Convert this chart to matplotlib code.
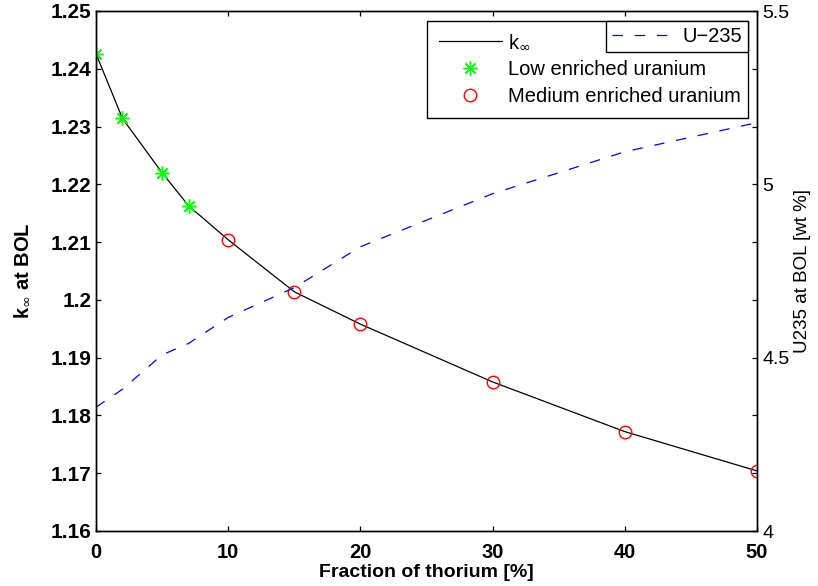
import matplotlib.pyplot as plt
import numpy as np

# - Data
thorium = [0, 2, 5, 7, 10, 15, 20, 30, 40, 50]
k_inf = [1.2426, 1.2314, 1.2220, 1.2163, 1.2104, 1.2014, 1.1958, 1.1858, 1.1772, 1.1704]
u235 = [4.357, 4.409, 4.508, 4.541, 4.616, 4.702, 4.820, 4.973, 5.094, 5.178]

leu_x = [0, 2, 5, 7]
leu_k = [1.2426, 1.2314, 1.2220, 1.2163]
meu_x = [10, 15, 20, 30, 40, 50]
meu_k = [1.2104, 1.2014, 1.1958, 1.1858, 1.1772, 1.1704]

left_ticks = [1.16, 1.17, 1.18, 1.19, 1.20, 1.21, 1.22, 1.23, 1.24, 1.25]
right_labels = ['4', '', '', '4.5', '', '', '5', '', '', '5.5']
x_ticks = [0, 10, 20, 30, 40, 50]

# - Style
plt.rcParams['font.family'] = ['Liberation Sans', 'DejaVu Sans']
plt.rcParams['lines.scale_dashes'] = False

fig = plt.figure(figsize=(8.18, 5.86), dpi=100)
ax = fig.add_axes([96 / 818, 55 / 586, 661 / 818, 520 / 586])
ax2 = ax.twinx()

# - Plot
l_k, = ax.plot(thorium, k_inf, color='black', lw=0.9, label=r'k$_{\infty}$')
l_leu, = ax.plot(leu_x, leu_k, ls='none', marker=(8, 2, 0), ms=10, mew=1,
                 color=(0, 1, 0), label='Low enriched uranium')
l_meu, = ax.plot(meu_x, meu_k, ls='none', marker='o', ms=9, mew=1,
                 mfc='none', mec='red', label='Medium enriched uranium')
l_u, = ax2.plot(thorium, u235, color='blue', lw=0.9, ls=(0, (7.5, 8.5)), label='U\u2212235')

# - Axes
ax.set_xlim(0, 50)
ax.set_ylim(1.16, 1.25)
ax2.set_ylim(4, 5.5)
ax.set_xticks(x_ticks)
ax.set_xticklabels([str(t) for t in x_ticks], fontsize=14.5, fontweight='bold')
ax.set_yticks(left_ticks)
ax.set_yticklabels(['%g' % t for t in left_ticks], fontsize=15, fontweight='bold')
ax2.set_yticks(np.linspace(4, 5.5, 10))
ax2.set_yticklabels(right_labels, fontsize=14)

ax.tick_params(axis='x', direction='in', length=3.6, width=0.9, top=True, pad=9)
ax.tick_params(axis='y', direction='in', length=3.6, width=0.9, right=False, pad=3)
ax2.tick_params(axis='y', direction='in', length=3.6, width=0.9, pad=4)
for a in (ax, ax2):
    for s in a.spines.values():
        s.set_linewidth(1.0)

ax.set_xlabel('Fraction of thorium [%]', fontsize=14, fontweight='bold', labelpad=1)
ax.set_ylabel(r'k$_{\infty}$ at BOL', fontsize=14.5, fontweight='bold', labelpad=14)
ax2.set_ylabel('U235 at BOL [wt %]', fontsize=13.5, labelpad=3)

# - Legends (two boxes, like the original)
leg1 = ax.legend(handles=[l_k, l_leu, l_meu], loc='upper left',
                 bbox_to_anchor=(427 / 818, 1 - 21 / 586 - 0.2, 321 / 818, 0.2),
                 bbox_transform=fig.transFigure, mode='expand', borderaxespad=0,
                 fontsize=14.5, handlelength=3.1, handletextpad=0.3, labelspacing=0.4,
                 borderpad=0.6, fancybox=False, framealpha=1, edgecolor='black',
                 numpoints=1)
leg1.get_frame().set_linewidth(1.0)
leg2 = ax2.legend(handles=[l_u], loc='upper right',
                  bbox_to_anchor=(748 / 818, 1 - 21 / 586),
                  bbox_transform=fig.transFigure, borderaxespad=0,
                  fontsize=14.5, handlelength=3.0, handletextpad=0.5,
                  borderpad=0.3, fancybox=False, framealpha=1, edgecolor='black')
leg2.get_frame().set_linewidth(1.0)

fig.savefig('out.png', dpi=100)
